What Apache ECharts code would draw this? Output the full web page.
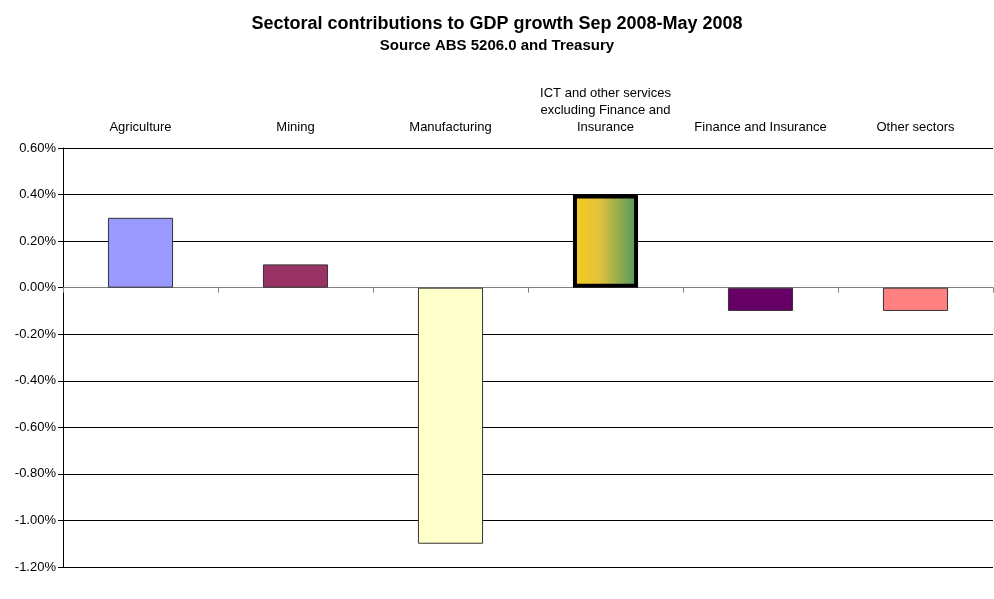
<!DOCTYPE html>
<html>
<head>
<meta charset="utf-8">
<script src="https://cdn.jsdelivr.net/npm/echarts@6/dist/echarts.min.js"></script>
<style>
  html, body { margin: 0; padding: 0; background: #fff; }
  #main { width: 994px; height: 599px; }
</style>
</head>
<body>
<div id="main"></div>
<script>
var sectors = ['Agriculture', 'Mining', 'Manufacturing',
  'ICT and other services\nexcluding Finance and\nInsurance',
  'Finance and Insurance', 'Other sectors'];
var contributions = [0.3, 0.1, -1.1, 0.4, -0.1, -0.1];
var barColours = ['#9999FF', '#993366', '#FFFFCC', 'gradient', '#660066', '#FF8080'];

var dom = document.getElementById('main');
var myChart = echarts.init(dom);

var barData = contributions.map(function (v, i) {
  var item = { value: v, itemStyle: { color: barColours[i], borderColor: '#333', borderWidth: 1 } };
  if (barColours[i] === 'gradient') {
    item.itemStyle = {
      color: new echarts.graphic.LinearGradient(0, 0, 1, 0, [
        { offset: 0, color: '#FACC1C' },
        { offset: 0.4, color: '#E2C23A' },
        { offset: 1, color: '#4A9862' }
      ]),
      borderColor: '#000',
      borderWidth: 4
    };
  }
  return item;
});

var option = {
  backgroundColor: '#fff',
  textStyle: { fontFamily: 'Liberation Sans, Arial, sans-serif' },
  title: {
    text: 'Sectoral contributions to GDP growth Sep 2008-May 2008',
    subtext: 'Source ABS 5206.0 and Treasury',
    left: 'center',
    top: 10,
    itemGap: 5,
    textStyle: { fontSize: 18, fontWeight: 'bold', color: '#000' },
    subtextStyle: { fontSize: 15, fontWeight: 'bold', color: '#000' }
  },
  grid: { left: 63, right: 1, top: 148, bottom: 32 },
  xAxis: [
    {
      type: 'category',
      data: sectors,
      position: 'bottom',
      axisLine: { onZero: true, lineStyle: { color: '#808080', width: 1 } },
      axisTick: { show: true, interval: 0, length: 5, lineStyle: { color: '#808080' } },
      axisLabel: { show: false },
      splitLine: { show: false }
    },
    {
      type: 'category',
      data: sectors,
      position: 'top',
      axisLine: { show: false },
      axisTick: { show: false },
      axisLabel: { color: '#000', fontSize: 13, margin: 12, lineHeight: 17, interval: 0 }
    }
  ],
  yAxis: {
    type: 'value',
    min: -1.2,
    max: 0.6,
    interval: 0.2,
    axisLine: { show: true, lineStyle: { color: '#000' } },
    axisTick: { show: true, length: 5, lineStyle: { color: '#000' } },
    axisLabel: {
      color: '#000', fontSize: 13, margin: 7,
      formatter: function (v) { return v.toFixed(2) + '%'; }
    },
    splitLine: { show: true, lineStyle: { color: '#000', width: 1 } }
  },
  series: [
    {
      type: 'bar',
      xAxisIndex: 0,
      barWidth: '42%',
      data: barData
    }
  ]
};

myChart.setOption(option);
</script>
</body>
</html>
